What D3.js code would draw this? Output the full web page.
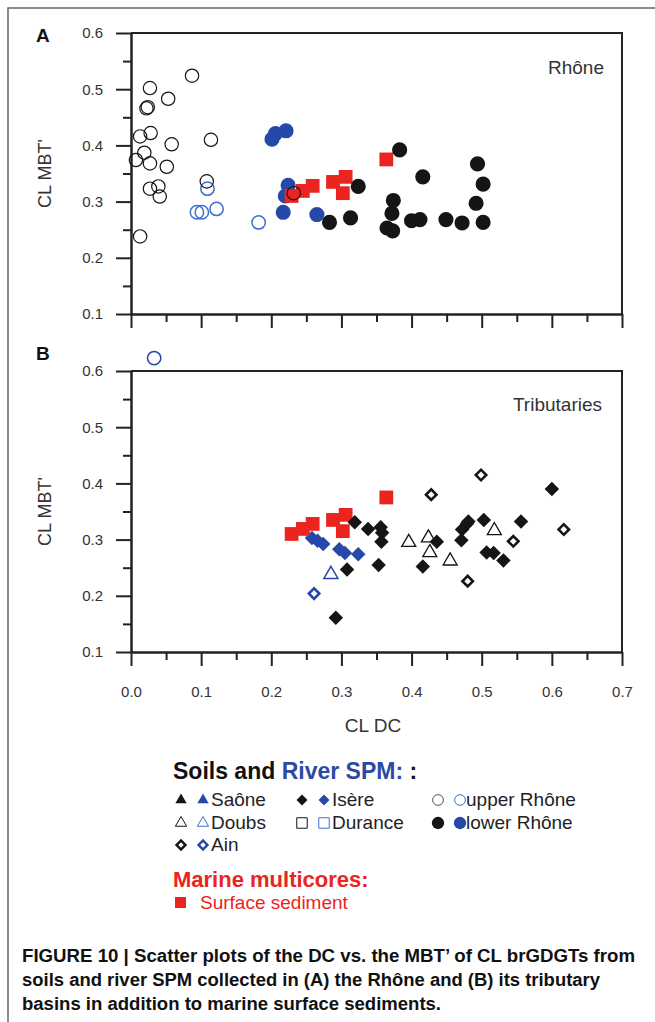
<!DOCTYPE html>
<html>
<head>
<meta charset="utf-8">
<script src="https://cdn.jsdelivr.net/npm/d3@7"></script>
<style>
body { margin: 0; background: #fff; }
svg { display: block; font-family: "Liberation Sans", Arial, sans-serif; }
</style>
</head>
<body>
<svg id="fig" width="655" height="1022"></svg>
<script>
// values are [CL DC, CL MBT']
// panel A : Rhone
const upperRhoneSoil = [
  [0.087,0.524],[0.027,0.502],[0.022,0.466],[0.024,0.468],[0.053,0.483],
  [0.013,0.416],[0.028,0.422],[0.058,0.402],[0.114,0.410],
  [0.007,0.374],[0.019,0.387],[0.027,0.368],[0.051,0.362],
  [0.027,0.323],[0.039,0.327],[0.041,0.309],[0.108,0.336],
  [0.013,0.238],[0.232,0.315]
];
const upperRhoneSPM = [[0.109,0.323],[0.094,0.281],[0.101,0.281],[0.122,0.287],[0.182,0.263]];
const lowerRhoneSPM = [[0.201,0.411],[0.206,0.421],[0.221,0.426],[0.224,0.329],[0.220,0.310],[0.217,0.281],[0.265,0.277]];
const lowerRhoneSoil = [
  [0.383,0.392],[0.324,0.327],[0.416,0.344],[0.494,0.367],[0.502,0.331],[0.492,0.297],
  [0.502,0.263],[0.374,0.302],[0.372,0.279],[0.365,0.253],[0.373,0.248],[0.283,0.263],
  [0.313,0.271],[0.400,0.266],[0.412,0.268],[0.449,0.268],[0.472,0.262]
];
// marine multicores, same in both panels
const marineSurface = [[0.229,0.310],[0.245,0.319],[0.259,0.328],[0.288,0.335],[0.306,0.344],[0.302,0.315],[0.364,0.375]];

// panel B : tributaries
const isereSoil = [
  [0.319,0.331],[0.338,0.319],[0.356,0.322],[0.358,0.312],[0.357,0.296],[0.308,0.247],
  [0.353,0.255],[0.292,0.161],[0.416,0.252],[0.436,0.296],[0.471,0.299],[0.472,0.318],
  [0.479,0.328],[0.481,0.332],[0.503,0.335],[0.507,0.277],[0.517,0.276],[0.531,0.263],
  [0.556,0.332],[0.600,0.390]
];
const isereSPM = [[0.258,0.303],[0.266,0.298],[0.274,0.292],[0.297,0.283],[0.305,0.276],[0.324,0.274]];
const doubsSoil = [[0.396,0.295],[0.424,0.303],[0.426,0.277],[0.455,0.262],[0.518,0.316]];
const doubsSPM = [[0.285,0.238]];
const ainSoil = [[0.428,0.380],[0.499,0.415],[0.617,0.318],[0.545,0.297],[0.480,0.226]];
const ainSPM = [[0.261,0.204]];
const upperRhoneSPMTrib = [[0.033,0.623]];

// ticks
const xTicks = [0,0.1,0.2,0.3,0.4,0.5,0.6,0.7];
const xMinor = [0.05,0.15,0.25,0.35,0.45,0.55,0.65];
const yTicks = [0.1,0.2,0.3,0.4,0.5,0.6];
const yMinor = [0.15,0.25,0.35,0.45,0.55];

const legendRows = [
  ['Saône','Isère','upper Rhône'],
  ['Doubs','Durance','lower Rhône'],
  ['Ain']
];
const captionLines = [
  'FIGURE 10 | Scatter plots of the DC vs. the MBT’ of CL brGDGTs from',
  'soils and river SPM collected in (A) the Rhône and (B) its tributary',
  'basins in addition to marine surface sediments.'
];

const BLACK = '#151515', BLUE = '#2648a8', LBLUE = '#3d6fd0', RED = '#ec2420';
const svg = d3.select('#fig');

// page frame (top + left)
svg.append('path')
  .attr('d', 'M8,1022 V8 H655')
  .attr('fill', 'none')
  .attr('stroke', '#666')
  .attr('stroke-width', 1.5);

function styleAxis(sel) {
  sel.attr('font-family', '"Liberation Sans", Arial, sans-serif').attr('font-size', 15);
  sel.selectAll('.domain, .tick line').attr('stroke', '#222').attr('stroke-width', 2);
  sel.selectAll('.tick text').attr('fill', '#333');
}

function drawPanel(yTop, yBot, showXLabels) {
  const x = d3.scaleLinear().domain([0, 0.7]).range([131, 622]);
  const y = d3.scaleLinear().domain([0.1, 0.6]).range([yBot, yTop]);
  const g = svg.append('g');

  // top and right border of the box
  g.append('path')
    .attr('d', `M${x(0)},${y(0.6)} H${x(0.7)} V${y(0.1)}`)
    .attr('fill', 'none').attr('stroke', '#222').attr('stroke-width', 2);

  g.append('g').attr('transform', `translate(0,${y(0.1)})`)
    .call(d3.axisBottom(x).tickValues(xMinor).tickSize(8).tickSizeOuter(0).tickFormat(''))
    .call(styleAxis);
  g.append('g').attr('transform', `translate(0,${y(0.1)})`)
    .call(d3.axisBottom(x).tickValues(xTicks).tickSize(14).tickSizeOuter(0).tickPadding(20)
      .tickFormat(showXLabels ? d3.format('.1f') : ''))
    .call(styleAxis);

  g.append('g').attr('transform', `translate(${x(0)},0)`)
    .call(d3.axisLeft(y).tickValues(yMinor).tickSize(8).tickSizeOuter(0).tickFormat(''))
    .call(styleAxis);
  g.append('g').attr('transform', `translate(${x(0)},0)`)
    .call(d3.axisLeft(y).tickValues(yTicks).tickSize(15).tickSizeOuter(0).tickPadding(13)
      .tickFormat(d3.format('.1f')))
    .call(styleAxis);

  g.append('text')
    .attr('transform', `translate(51,${(yTop + yBot) / 2}) rotate(-90)`)
    .attr('text-anchor', 'middle')
    .attr('font-size', 18)
    .attr('fill', '#333')
    .text('CL MBT\'');
  return { x: x, y: y, g: g };
}

const shapes = {
  circle: d3.symbolCircle,
  square: d3.symbolSquare,
  diamond: d3.symbolSquare,   // rotated below
  triangle: d3.symbolTriangle
};

function marker(sel, shape, size, fill, stroke, sw) {
  sel.append('path')
    .attr('d', d3.symbol().type(shapes[shape]).size(size)())
    .attr('transform', d => `translate(${d[0]},${d[1]})` + (shape == 'diamond' ? ' rotate(45)' : ''))
    .attr('fill', fill)
    .attr('stroke', stroke)
    .attr('stroke-width', sw);
}

function plot(p, data, shape, size, fill, stroke, sw) {
  const pts = data.map(d => [p.x(d[0]), p.y(d[1])]);
  p.g.append('g').selectAll('g')
    .data(pts)
    .enter()
    .append('g')
    .call(marker, shape, size, fill, stroke, sw);
}

// ---- panel A
const pA = drawPanel(33, 314, false);
plot(pA, lowerRhoneSPM, 'circle', 180, BLUE, 'none', 0);
plot(pA, upperRhoneSPM, 'circle', 140, 'none', LBLUE, 1.5);
plot(pA, marineSurface, 'square', 190, RED, 'none', 0);
plot(pA, lowerRhoneSoil, 'circle', 180, BLACK, 'none', 0);
plot(pA, upperRhoneSoil, 'circle', 140, 'none', BLACK, 1.2);

svg.append('text').attr('x', 36).attr('y', 42)
  .attr('font-size', 19).attr('font-weight', 'bold').attr('fill', '#111').text('A');
svg.append('text').attr('x', 604).attr('y', 74).attr('text-anchor', 'end')
  .attr('font-size', 19).attr('fill', '#333').text('Rhône');

// ---- panel B
const pB = drawPanel(371, 652, true);
plot(pB, isereSPM, 'diamond', 105, BLUE, 'none', 0);
plot(pB, doubsSPM, 'triangle', 85, 'none', BLUE, 1.5);
plot(pB, ainSPM, 'diamond', 55, 'none', BLUE, 2.6);
plot(pB, upperRhoneSPMTrib, 'circle', 140, 'none', BLUE, 1.5);
plot(pB, marineSurface, 'square', 190, RED, 'none', 0);
plot(pB, isereSoil, 'diamond', 105, BLACK, 'none', 0);
plot(pB, doubsSoil, 'triangle', 85, 'none', BLACK, 1.3);
plot(pB, ainSoil, 'diamond', 55, 'none', BLACK, 2.6);

svg.append('text').attr('x', 36).attr('y', 360)
  .attr('font-size', 19).attr('font-weight', 'bold').attr('fill', '#111').text('B');
svg.append('text').attr('x', 602).attr('y', 411).attr('text-anchor', 'end')
  .attr('font-size', 19).attr('fill', '#333').text('Tributaries');
svg.append('text').attr('x', 373).attr('y', 732).attr('text-anchor', 'middle')
  .attr('font-size', 19).attr('fill', '#333').text('CL DC');

// ---- legend
const lg = svg.append('g');
const title = lg.append('text').attr('x', 173).attr('y', 779)
  .attr('font-size', 23).attr('font-weight', 'bold').attr('fill', '#111');
title.append('tspan').text('Soils and ');
title.append('tspan').attr('fill', '#2b4aa3').text('River SPM:');
title.append('tspan').text(' :');

const colX = [181, 302, 438];
const rowY = [806, 829, 851];
// [shape, size, filled] for each legend entry
const legendMarks = {
  'Saône': ['triangle', 55, true], 'Isère': ['diamond', 60, true], 'upper Rhône': ['circle', 90, false],
  'Doubs': ['triangle', 55, false], 'Durance': ['square', 110, false], 'lower Rhône': ['circle', 120, true],
  'Ain': ['diamond', 40, false]
};
legendRows.forEach((row, r) => {
  row.forEach((lab, c) => {
    const m = legendMarks[lab];
    const cy = rowY[r] - 6;
    const thick = lab == 'Ain' ? 2.4 : 1;
    const pair = [[colX[c], cy, BLACK, lab == 'upper Rhône' ? '#555' : BLACK],
                  [colX[c] + 22, cy, BLUE, lab == 'upper Rhône' || lab == 'Doubs' || lab == 'Durance' ? LBLUE : BLUE]];
    pair.forEach(p => {
      lg.append('g').datum([p[0], p[1]])
        .call(marker, m[0], m[1], m[2] ? p[2] : 'none', m[2] ? 'none' : p[3], thick);
    });
    lg.append('text').attr('x', colX[c] + (c == 2 ? 28 : 30)).attr('y', rowY[r])
      .attr('font-size', 19).attr('fill', '#222').text(lab);
  });
});

lg.append('text').attr('x', 173).attr('y', 887)
  .attr('font-size', 22).attr('font-weight', 'bold').attr('fill', RED).text('Marine multicores:');
lg.append('g').datum([180.5, 902.5]).call(marker, 'square', 121, RED, 'none', 0);
lg.append('text').attr('x', 200).attr('y', 909)
  .attr('font-size', 19).attr('fill', RED).text('Surface sediment');

// ---- caption
const capLen = [613, 578, 419];
svg.append('g').selectAll('text')
  .data(captionLines)
  .enter()
  .append('text')
  .attr('x', 22)
  .attr('y', (d, i) => 962 + i * 24)
  .attr('font-size', 17.5)
  .attr('font-weight', 'bold')
  .attr('fill', '#111')
  .attr('textLength', (d, i) => capLen[i])
  .attr('lengthAdjust', 'spacingAndGlyphs')
  .text(d => d);
</script>
</body>
</html>
